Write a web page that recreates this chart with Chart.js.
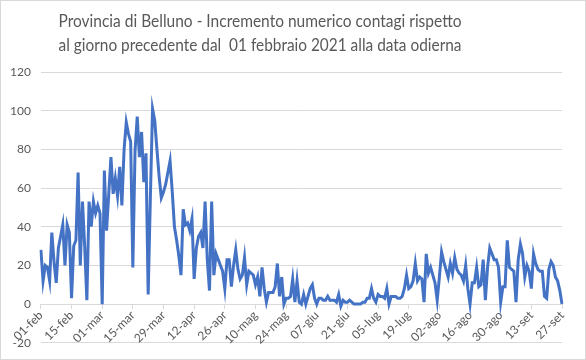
<!DOCTYPE html>
<html>
<head>
<meta charset="utf-8">
<script src="https://cdn.jsdelivr.net/npm/chart.js@4"></script>
<style>
  body { margin: 0; background: #fff; }
  canvas { display: block; }
</style>
</head>
<body>
<canvas id="contagiChart" width="586" height="360"></canvas>
<script>
//------------------Data: daily increase, 01 feb 2021 -> 27 set 2021------------------
const monthNames = ['feb', 'mar', 'apr', 'mag', 'giu', 'lug', 'ago', 'set'];

const feb = [28, 12, 20, 19, 12, 37, 22, 11, 29, 35, 41, 20, 41, 37, 3, 30, 33, 68, 20, 53, 30, 2, 53, 40, 53, 47, 51, 47];
const mar = [0, 69, 38, 57, 76, 57, 65, 56, 71, 51, 80, 94, 88, 84, 19, 79, 97, 76, 89, 63, 78, 5, 55, 101, 95, 80, 66, 55, 58, 62, 68];
const apr = [74, 58, 40, 33, 25, 15, 49, 41, 42, 38, 44, 13, 29, 35, 37, 29, 53, 23, 7, 53, 15, 26, 23, 20, 17, 8, 23, 23, 9, 20];
const mag = [28, 18, 13, 15, 24, 10, 17, 16, 15, 10, 14, 4, 19, 8, 1, 6, 6, 6, 9, 21, 4, 14, 0, 3, 3, 4, 13, 1, 12, 1, 0];
const giu = [5, 0, 4, 8, 10, 3, 0, 3, 3, 2, 2, 4, 2, 2, 2, 1, 5, -1, 2, 1, 1, 2, 1, 0, 0, 0, 0, 1, 1, 3];
const lug = [3, 8, 3, 1, 5, 4, 4, 3, 8, 0, 4, 4, 4, 3, 3, 4, 8, 15, 8, 9, 12, 21, 12, 14, 13, 1, 26, 16, 19, 15, 11];
const ago = [2, 14, 27, 22, 18, 14, 21, 16, 24, 18, 16, 15, 12, 20, 8, 0, 11, 11, 19, 9, 10, 23, 2, 19, 29, 26, 23, 23, 19, 1, 9];
const set = [9, 33, 19, 18, 17, 1, 23, 31, 26, 14, 20, 17, 8, 26, 21, 18, 17, 17, 4, 3, 18, 22, 20, 14, 12, 7, 0];

const yTicks = [-20, 0, 20, 40, 60, 80, 100, 120];
const labelEvery = 14;

const titleLines = [
  'Provincia di Belluno - Incremento numerico contagi rispetto',
  'al giorno precedente dal  01 febbraio 2021 alla data odierna',
];

//------------------Build labels + values------------------
const months = [feb, mar, apr, mag, giu, lug, ago, set];
const labels = [];
const values = [];
months.forEach((month, m) => {
  month.forEach((v, d) => {
    labels.push(`${String(d + 1).padStart(2, '0')}-${monthNames[m]}`);
    values.push(v);
  });
});

const FONT = 'Lato, "Open Sans", sans-serif';
const GREY = '#595959';
const GRID = '#d9d9d9';

//------------------Background, border and title------------------
const frame = {
  id: 'frame',
  beforeDraw: (chart) => {
    const ctx = chart.ctx;
    ctx.save();
    ctx.fillStyle = '#fff';
    ctx.fillRect(0, 0, chart.width, chart.height);
    ctx.restore();
  },
  afterDraw: (chart) => {
    const ctx = chart.ctx;
    ctx.save();
    ctx.strokeStyle = GRID;
    ctx.lineWidth = 1;
    ctx.strokeRect(0.5, 0.5, chart.width - 1, chart.height - 1);
    ctx.fillStyle = GREY;
    ctx.font = `17px ${FONT}`;
    ctx.textAlign = 'center';
    ctx.textBaseline = 'middle';
    titleLines.forEach((line, i) => {
      // the original title font is narrower, squeeze to the same width
      ctx.fillText(line, 260, 22 + i * 24, 403);
    });
    ctx.restore();
  },
};

//------------------Chart------------------
new Chart(document.getElementById('contagiChart'), {
  type: 'line',
  data: {
    labels: labels,
    datasets: [
      {
        data: values,
        borderColor: '#4472C4',
        borderWidth: 3,
        pointRadius: 0,
        tension: 0,
        fill: false,
      },
    ],
  },
  options: {
    responsive: false,
    animation: false,
    layout: { padding: { top: 72, right: 24, bottom: 16, left: 0 } },
    plugins: {
      legend: { display: false },
      title: { display: false },
      tooltip: { enabled: false },
    },
    scales: {
      x: {
        position: { y: 0 },
        offset: false,
        afterBuildTicks: (scale) => {
          scale.ticks = scale.ticks.filter((t, i) => i % labelEvery === 0);
        },
        grid: { drawOnChartArea: false, drawTicks: true, tickLength: 4, color: GRID },
        border: { color: GRID },
        ticks: {
          autoSkip: false,
          minRotation: 45,
          maxRotation: 45,
          padding: 0,
          color: GREY,
          font: { family: FONT, size: 12 },
        },
      },
      y: {
        min: yTicks[0],
        max: yTicks[yTicks.length - 1],
        afterBuildTicks: (scale) => {
          scale.ticks = yTicks.map((v) => ({ value: v }));
        },
        grid: { color: GRID, drawTicks: false },
        border: { display: false },
        ticks: {
          padding: 10,
          color: GREY,
          font: { family: FONT, size: 12 },
        },
      },
    },
  },
  plugins: [frame],
});
</script>
</body>
</html>
